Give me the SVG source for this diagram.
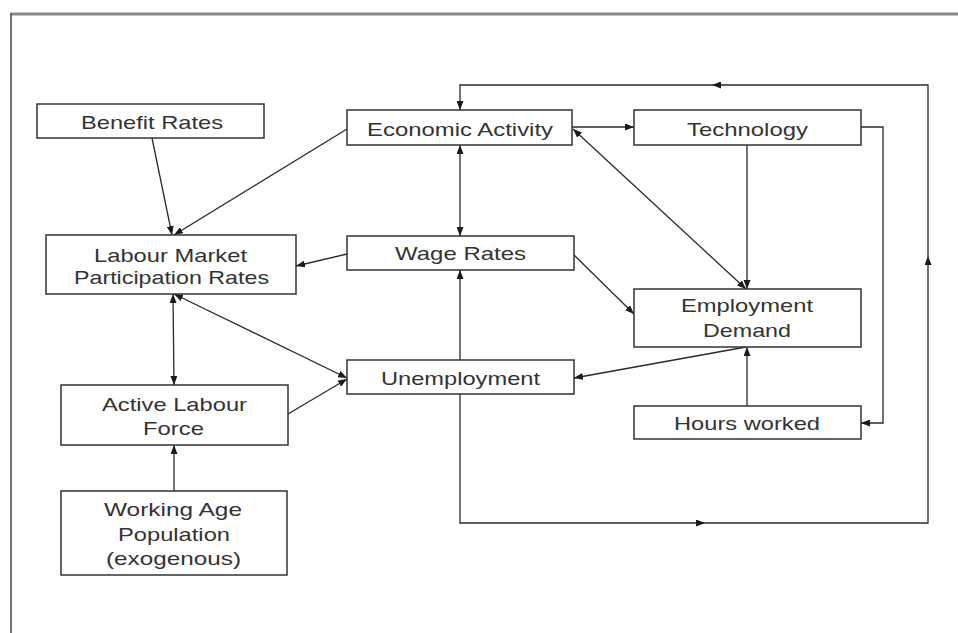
<svg xmlns="http://www.w3.org/2000/svg" width="958" height="633" viewBox="0 0 958 633">
<style>
.box{fill:#fff;stroke:#333;stroke-width:1.5}
.t{font-family:"Liberation Sans",Arial,sans-serif;font-size:19px;fill:#333}
.c{fill:none;stroke:#2a2a2a;stroke-width:1.3}
.e{marker-end:url(#ah)}
.s{marker-start:url(#ah)}
</style>
<defs>
<marker id="ah" viewBox="0 0 9 7" refX="9" refY="3.5" markerWidth="9" markerHeight="7" markerUnits="userSpaceOnUse" orient="auto-start-reverse">
<path d="M0,0 L9,3.5 L0,7 z" fill="#1a1a1a"/>
</marker>
</defs>
<rect x="0" y="0" width="958" height="633" fill="#fff"/>
<line x1="11" y1="14" x2="958" y2="14" stroke="#8a8a8a" stroke-width="3"/>
<line x1="11" y1="13" x2="11" y2="633" stroke="#444" stroke-width="1.5"/>

<g id="connectors">
<path class="c e" d="M152,138 L172,235"/>
<path class="c e" d="M347,129 L174,235"/>
<path class="c e" d="M347,254 L296,266"/>
<path class="c e s" d="M460,145 L460,236"/>
<path class="c e" d="M572,127 L634,127"/>
<path class="c e s" d="M573,129 L746,289"/>
<path class="c e" d="M747,145 L747,289"/>
<path class="c e" d="M861,127 L883,127 L883,423 L861,423"/>
<path class="c e" d="M574,255 L634,314"/>
<path class="c e" d="M746,347 L574,378"/>
<path class="c e" d="M747,406 L747,347"/>
<path class="c e" d="M460,360 L460,270"/>
<path class="c e" d="M460,394 L460,523 L705,523"/>
<path class="c e" d="M705,523 L928,523 L928,256"/>
<path class="c e" d="M928,256 L928,85 L712,85"/>
<path class="c e" d="M712,85 L460,85 L460,110"/>
<path class="c e s" d="M173,294 L174,385"/>
<path class="c e s" d="M174,294 L347,378"/>
<path class="c e" d="M288,414 L347,379"/>
<path class="c e" d="M174,491 L174,445"/>
</g>

<g id="benefit-rates">
<rect class="box" x="37" y="104" width="227" height="34"/>
<text class="t" x="81" y="129" textLength="142" lengthAdjust="spacingAndGlyphs">Benefit Rates</text>
</g>
<g id="labour-market-participation">
<rect class="box" x="46" y="235" width="250" height="59"/>
<text class="t" x="94" y="262" textLength="153" lengthAdjust="spacingAndGlyphs">Labour Market</text>
<text class="t" x="74" y="284" textLength="195" lengthAdjust="spacingAndGlyphs">Participation Rates</text>
</g>
<g id="economic-activity">
<rect class="box" x="347" y="110" width="225" height="35"/>
<text class="t" x="367" y="136" textLength="186" lengthAdjust="spacingAndGlyphs">Economic Activity</text>
</g>
<g id="wage-rates">
<rect class="box" x="347" y="236" width="227" height="34"/>
<text class="t" x="395" y="260" textLength="131" lengthAdjust="spacingAndGlyphs">Wage Rates</text>
</g>
<g id="technology">
<rect class="box" x="634" y="110" width="227" height="35"/>
<text class="t" x="687" y="136" textLength="121" lengthAdjust="spacingAndGlyphs">Technology</text>
</g>
<g id="employment-demand">
<rect class="box" x="634" y="289" width="227" height="58"/>
<text class="t" x="681" y="312" textLength="132" lengthAdjust="spacingAndGlyphs">Employment</text>
<text class="t" x="703" y="337" textLength="88" lengthAdjust="spacingAndGlyphs">Demand</text>
</g>
<g id="unemployment">
<rect class="box" x="347" y="360" width="227" height="34"/>
<text class="t" x="381" y="385" textLength="159" lengthAdjust="spacingAndGlyphs">Unemployment</text>
</g>
<g id="hours-worked">
<rect class="box" x="634" y="406" width="227" height="33"/>
<text class="t" x="674" y="430" textLength="146" lengthAdjust="spacingAndGlyphs">Hours worked</text>
</g>
<g id="active-labour-force">
<rect class="box" x="61" y="385" width="227" height="60"/>
<text class="t" x="102" y="411" textLength="145" lengthAdjust="spacingAndGlyphs">Active Labour</text>
<text class="t" x="143" y="435" textLength="61" lengthAdjust="spacingAndGlyphs">Force</text>
</g>
<g id="working-age-population">
<rect class="box" x="61" y="491" width="226" height="84"/>
<text class="t" x="104" y="516" textLength="138" lengthAdjust="spacingAndGlyphs">Working Age</text>
<text class="t" x="118" y="541" textLength="112" lengthAdjust="spacingAndGlyphs">Population</text>
<text class="t" x="106" y="565" textLength="135" lengthAdjust="spacingAndGlyphs">(exogenous)</text>
</g>
</svg>
